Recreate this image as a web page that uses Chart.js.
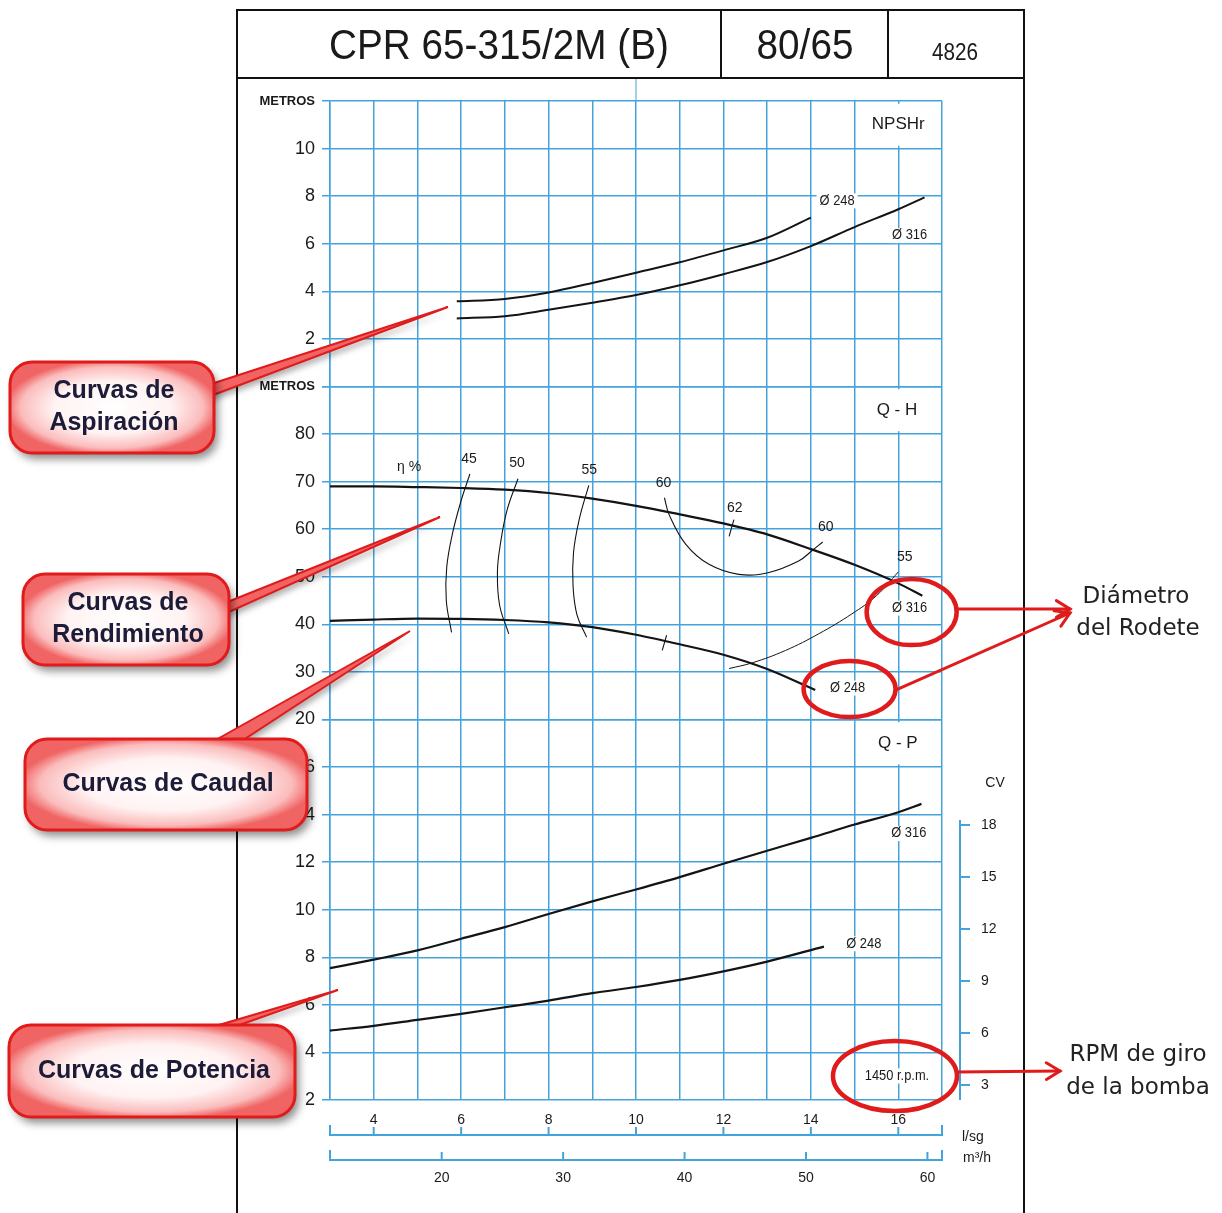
<!DOCTYPE html>
<html lang="es">
<head>
  <meta charset="UTF-8">
  <title>CPR 65-315/2M (B)</title>
  <script src="https://cdn.jsdelivr.net/npm/chart.js"></script>
  <style>
    body { margin: 0; background: #fff; }
    #wrap { width: 1222px; height: 1213px; }
  </style>
</head>
<body>
  <div id="wrap"><canvas id="curvas" width="1222" height="1213"></canvas></div>
  <script>
    const flowLsTicks = [4, 6, 8, 10, 12, 14, 16];
    const flowM3hTicks = [20, 30, 40, 50, 60];
    const npshTicks = [2, 4, 6, 8, 10];
    const headTicks = [20, 30, 40, 50, 60, 70, 80];
    const powerTicks = [2, 4, 6, 8, 10, 12, 14, 16];
    const cvTicks = [3, 6, 9, 12, 15, 18];

    // NPSHr (m)
    const npsh248 = [[5.9,3.58],[7,3.68],[8,3.95],[9,4.35],[10,4.78],[11,5.22],[12,5.72],[13,6.25],[14,7.1]];
    const npsh316 = [[5.9,2.86],[7,2.95],[8,3.22],[9,3.52],[10,3.84],[11,4.25],[12,4.72],[13,5.23],[14,5.9],[15,6.7],[16,7.45],[16.6,7.95]];

    // Q-H (m)
    const head316 = [[3,69.0],[4,69.0],[5,68.85],[6,68.65],[7,68.3],[8,67.6],[9,66.4],[10,64.9],[11,63.1],[12,61.2],[13,58.9],[14,55.8],[15,52.5],[16,48.6],[16.55,46.0]];
    const head248 = [[3,40.7],[4,41.0],[5,41.2],[6,41.15],[7,40.9],[8,40.4],[9,39.4],[10,37.8],[11,35.8],[12,33.6],[13,30.6],[14,26.6],[14.1,26.2]];

    // rendimiento (iso-curvas sobre Q-H)
    const eta45 = [[6.2,71.6],[6.0,66],[5.8,59],[5.67,52],[5.66,45],[5.78,38.3]];
    const eta50 = [[7.3,70.6],[7.05,64],[6.9,57],[6.83,51],[6.88,44],[7.09,38.0]];
    const eta55 = [[8.92,69.2],[8.7,62],[8.57,55],[8.56,48],[8.65,42],[8.87,37.3]];
    const eta60 = [[10.65,66.6],[10.76,63.0],[11.14,56.8],[11.67,52.6],[12.35,50.5],[13.04,50.9],[13.72,53.3],[14.03,55.5],[14.27,57.3]];
    const eta62 = [[12.24,62.0],[12.13,58.5]];
    const eta60b = [[10.7,37.7],[10.6,34.5]];
    const eta55b = [[12.13,30.7],[12.66,31.9],[13.42,34.5],[14.18,38.0],[14.94,42.2],[15.5,46.0],[16.0,51.0]];

    // Q-P (kW)
    const power316 = [[3,7.54],[4,7.9],[5,8.29],[6,8.78],[7,9.27],[8,9.82],[9,10.35],[10,10.85],[11,11.37],[12,11.93],[13,12.48],[14,13.02],[15,13.58],[16,14.1],[16.53,14.45]];
    const power248 = [[3,4.92],[4,5.12],[5,5.37],[6,5.62],[7,5.9],[8,6.18],[9,6.49],[10,6.75],[11,7.05],[12,7.41],[13,7.82],[14.3,8.45]];

    // rotulos [texto, caudal, valor, eje]
    const sectionTitles = [['NPSHr', 16.0, 11.0, 'yN'], ['Q - H', 15.97, 85.0, 'yH'], ['Q - P', 15.99, 17.0, 'yP']];
    const diaLabels = [['Ø 248', 14.6, 7.8, 'yN'], ['Ø 316', 16.26, 6.34, 'yN'],
                       ['Ø 316', 16.26, 43.4, 'yH'], ['Ø 248', 14.84, 26.6, 'yH'],
                       ['Ø 316', 16.24, 13.2, 'yP'], ['Ø 248', 15.21, 8.57, 'yP'],
                       ['1450 r.p.m.', 15.97, 3.01, 'yP']];
    const etaLabels = [['η %', 4.81, 73.1], ['45', 6.18, 74.7], ['50', 7.28, 73.9], ['55', 8.93, 72.4],
                       ['60', 10.63, 69.7], ['62', 12.26, 64.4], ['60', 14.34, 60.4], ['55', 16.15, 54.1]];

    const GRID = '#45a3dc';
    const INK = '#1a1a1a';
    const RED = '#e01b1b';
    const FONT = "'Liberation Sans', Arial, sans-serif";

    function serie(pts, axis, width, monotone) {
      return {
        data: pts.map(p => ({ x: p[0], y: p[1] })),
        xAxisID: 'x', yAxisID: axis,
        borderColor: '#141414', borderWidth: width,
        pointRadius: 0, fill: false,
        tension: monotone ? 0 : 0.4,
        cubicInterpolationMode: monotone ? 'monotone' : 'default'
      };
    }

    function txt(ctx, s, x, y, font, align, sx, color) {
      ctx.save();
      ctx.font = font;
      ctx.fillStyle = color || INK;
      ctx.textAlign = align || 'center';
      ctx.textBaseline = 'middle';
      ctx.translate(x, y);
      ctx.scale(sx || 1, 1);
      ctx.fillText(s, 0, 0);
      ctx.restore();
    }

    function labelBox(ctx, s, x, y, font, h, sx) {
      sx = sx || 1;
      ctx.save();
      ctx.font = font;
      const w = ctx.measureText(s).width * sx + 6;
      ctx.fillStyle = '#fff';
      ctx.fillRect(x - w / 2, y - h / 2, w, h);
      ctx.restore();
      txt(ctx, s, x, y, font, 'center', sx);
    }

    function rrect(ctx, x, y, w, h, r) {
      ctx.beginPath();
      ctx.moveTo(x + r, y);
      ctx.arcTo(x + w, y, x + w, y + h, r);
      ctx.arcTo(x + w, y + h, x, y + h, r);
      ctx.arcTo(x, y + h, x, y, r);
      ctx.arcTo(x, y, x + w, y, r);
      ctx.closePath();
    }

    function callout(ctx, b) {
      ctx.save();
      ctx.shadowColor = 'rgba(0,0,0,0.35)';
      ctx.shadowBlur = 6; ctx.shadowOffsetX = 3; ctx.shadowOffsetY = 4;
      ctx.beginPath();
      ctx.moveTo(b.tail[0][0], b.tail[0][1]);
      ctx.lineTo(b.tail[2][0], b.tail[2][1]);
      ctx.lineTo(b.tail[1][0], b.tail[1][1]);
      ctx.closePath();
      ctx.fillStyle = '#f26464';
      ctx.fill();
      ctx.shadowColor = 'transparent';
      ctx.strokeStyle = RED; ctx.lineWidth = 2; ctx.stroke();

      ctx.shadowColor = 'rgba(0,0,0,0.45)';
      ctx.shadowBlur = 9; ctx.shadowOffsetX = 4; ctx.shadowOffsetY = 6;
      rrect(ctx, b.x, b.y, b.w, b.h, 22);
      ctx.fillStyle = '#f27070';
      ctx.fill();
      ctx.shadowColor = 'transparent';
      ctx.save();
      ctx.translate(b.x + b.w / 2, b.y + b.h / 2);
      ctx.scale(b.w / 2, b.h / 2);
      const g = ctx.createRadialGradient(0, 0, 0, 0, 0, 1.05);
      g.addColorStop(0, '#ffffff');
      g.addColorStop(0.55, '#fff2f2');
      g.addColorStop(0.85, '#fbbcbc');
      g.addColorStop(1, '#f06464');
      ctx.fillStyle = g;
      ctx.fill();
      ctx.restore();
      ctx.strokeStyle = RED; ctx.lineWidth = 3; ctx.stroke();
      ctx.restore();
      const n = b.lines.length;
      b.lines.forEach((s, i) => {
        txt(ctx, s, b.x + b.w / 2 + 2, b.y + b.h / 2 + (i - (n - 1) / 2) * 32, "bold 25px " + FONT, 'center', 1, '#1c1c38');
      });
    }

    function arrow(ctx, x1, y1, x2, y2) {
      const a = Math.atan2(y2 - y1, x2 - x1);
      ctx.save();
      ctx.strokeStyle = RED; ctx.lineWidth = 3; ctx.lineCap = 'round';
      ctx.beginPath(); ctx.moveTo(x1, y1); ctx.lineTo(x2, y2); ctx.stroke();
      ctx.beginPath();
      ctx.moveTo(x2 - 16 * Math.cos(a - 0.55), y2 - 16 * Math.sin(a - 0.55));
      ctx.lineTo(x2, y2);
      ctx.lineTo(x2 - 16 * Math.cos(a + 0.55), y2 - 16 * Math.sin(a + 0.55));
      ctx.stroke();
      ctx.restore();
    }

    function ellipse(ctx, cx, cy, rx, ry) {
      ctx.save();
      ctx.strokeStyle = RED; ctx.lineWidth = 4.5;
      ctx.beginPath(); ctx.ellipse(cx, cy, rx, ry, 0, 0, Math.PI * 2); ctx.stroke();
      ctx.restore();
    }

    const boxes = [
      { x: 10, y: 362, w: 204, h: 91, lines: ['Curvas de', 'Aspiración'], tail: [[205, 386], [205, 398], [448, 307]] },
      { x: 23, y: 574, w: 206, h: 91, lines: ['Curvas de', 'Rendimiento'], tail: [[220, 605], [220, 616], [440, 517]] },
      { x: 25, y: 739, w: 282, h: 91, lines: ['Curvas de Caudal'], tail: [[205, 746], [234, 746], [410, 631]] },
      { x: 9, y: 1025, w: 286, h: 92, lines: ['Curvas de Potencia'], tail: [[195, 1032], [220, 1032], [338, 990]] }
    ];

    const hoja = {
      id: 'hoja',
      beforeDatasetsDraw(chart) {
        const ctx = chart.ctx, s = chart.scales;
        sectionTitles.forEach(([t, q, v, ax]) => {
          labelBox(ctx, t, s.x.getPixelForValue(q), s[ax].getPixelForValue(v), "17px " + FONT, 42);
        });
        diaLabels.forEach(([t, q, v, ax]) => {
          labelBox(ctx, t, s.x.getPixelForValue(q), s[ax].getPixelForValue(v), "14px " + FONT, 15, 0.92);
        });
        etaLabels.forEach(([t, q, v]) => {
          txt(ctx, t, s.x.getPixelForValue(q), s.yH.getPixelForValue(v), "14px " + FONT);
        });
      },
      afterDraw(chart) {
        const ctx = chart.ctx, s = chart.scales, a = chart.chartArea;
        // marco y cabecera
        ctx.save();
        ctx.strokeStyle = '#111'; ctx.lineWidth = 2;
        ctx.beginPath();
        ctx.moveTo(237, 1213); ctx.lineTo(237, 10); ctx.lineTo(1024, 10); ctx.lineTo(1024, 1213);
        ctx.moveTo(237, 78); ctx.lineTo(1024, 78);
        ctx.moveTo(721, 10); ctx.lineTo(721, 78);
        ctx.moveTo(888, 10); ctx.lineTo(888, 78);
        ctx.stroke();
        ctx.strokeStyle = GRID; ctx.lineWidth = 1;
        const x10 = s.x.getPixelForValue(10);
        ctx.beginPath(); ctx.moveTo(x10, 79); ctx.lineTo(x10, a.top); ctx.stroke();
        ctx.restore();
        txt(ctx, 'CPR 65-315/2M (B)', 499, 47, "43px " + FONT, 'center', 0.9);
        txt(ctx, '80/65', 805, 47, "43px " + FONT, 'center', 0.9);
        txt(ctx, '4826', 955, 54, "23px " + FONT, 'center', 0.9);

        // ejes de caudal inferiores
        ctx.save();
        ctx.strokeStyle = GRID; ctx.lineWidth = 2;
        const yLs = s.x.top + 35, yM3 = s.xm3.top + 12;
        ctx.beginPath();
        ctx.moveTo(a.left, yLs - 10); ctx.lineTo(a.left, yLs); ctx.lineTo(a.right, yLs); ctx.lineTo(a.right, yLs - 10);
        flowLsTicks.forEach(v => { const px = s.x.getPixelForValue(v); ctx.moveTo(px, yLs); ctx.lineTo(px, yLs - 8); });
        ctx.moveTo(a.left, yM3 - 10); ctx.lineTo(a.left, yM3); ctx.lineTo(a.right, yM3); ctx.lineTo(a.right, yM3 - 10);
        flowM3hTicks.forEach(v => { const px = s.xm3.getPixelForValue(v); ctx.moveTo(px, yM3); ctx.lineTo(px, yM3 - 8); });
        // eje CV
        const xcv = a.right + 18;
        ctx.moveTo(xcv, s.cv.getPixelForValue(18) - 5); ctx.lineTo(xcv, a.bottom);
        cvTicks.forEach(v => { const py = s.cv.getPixelForValue(v); ctx.moveTo(xcv, py); ctx.lineTo(xcv + 10, py); });
        ctx.stroke();
        ctx.restore();
        txt(ctx, 'l/sg', a.right + 20, yLs + 2, "14px " + FONT, 'left');
        txt(ctx, 'm³/h', a.right + 21, yM3 - 2, "14px " + FONT, 'left');
        txt(ctx, 'CV', a.right + 53, s.cv.getPixelForValue(20.4), "14px " + FONT);

        // anotaciones
        boxes.forEach(b => callout(ctx, b));
        const p316 = [s.x.getPixelForValue(16.26) + 2, s.yH.getPixelForValue(43.4) + 4];
        const p248 = [s.x.getPixelForValue(14.84) + 2, s.yH.getPixelForValue(26.6) + 1];
        const prpm = [s.x.getPixelForValue(15.97) - 2, s.yP.getPixelForValue(3.01)];
        ellipse(ctx, p316[0], p316[1], 45, 33);
        ellipse(ctx, p248[0], p248[1], 46, 28);
        ellipse(ctx, prpm[0], prpm[1], 62, 35);
        arrow(ctx, p316[0] + 45, p316[1] - 3, 1070, 609);
        arrow(ctx, p248[0] + 46, p248[1] + 1, 1070, 613);
        arrow(ctx, prpm[0] + 62, prpm[1] - 4, 1060, 1071);
        const side = "23px 'DejaVu Sans', sans-serif";
        txt(ctx, 'Diámetro', 1136, 597, side, 'center', 1, '#222');
        txt(ctx, 'del Rodete', 1138, 629, side, 'center', 1, '#222');
        txt(ctx, 'RPM de giro', 1138, 1055, side, 'center', 1, '#222');
        txt(ctx, 'de la bomba', 1138, 1088, side, 'center', 1, '#222');
      }
    };

    const metrosAt = { yN: 12, yH: 90 };
    function yScale(weight, stackWeight, min, max, step, shown) {
      return {
        type: 'linear', position: 'left', stack: 'panel', stackWeight, weight,
        min, max,
        afterFit: sc => { sc.width = 92; },
        ticks: {
          stepSize: step, color: INK, padding: 7, autoSkip: false,
          callback: function (v) {
            if (metrosAt[this.id] === v) return 'METROS';
            return shown.includes(v) ? String(v) : '';
          },
          font: c => (c.tick && metrosAt[c.scale.id] === c.tick.value)
            ? { family: FONT, size: 13, weight: 'bold' }
            : { family: FONT, size: 18 }
        },
        grid: { color: GRID, lineWidth: 1.5, tickLength: 8, tickColor: GRID },
        border: { color: GRID, width: 1.5 }
      };
    }

    const datasets = [
      serie(npsh248, 'yN', 2, true), serie(npsh316, 'yN', 2, true),
      serie(head316, 'yH', 2.2, true), serie(head248, 'yH', 2.2, true),
      serie(eta45, 'yH', 1.1, false), serie(eta50, 'yH', 1.1, false), serie(eta55, 'yH', 1.1, false),
      serie(eta60, 'yH', 1.1, false), serie(eta62, 'yH', 1.1, false), serie(eta60b, 'yH', 1.1, false),
      serie(eta55b, 'yH', 1, false),
      serie(power316, 'yP', 2.2, true), serie(power248, 'yP', 2.2, true)
    ];

    new Chart(document.getElementById('curvas'), {
      type: 'line',
      data: { datasets },
      options: {
        responsive: false,
        animation: false,
        layout: { padding: { left: 238, right: 220, top: 101, bottom: 23 } },
        plugins: { legend: { display: false }, tooltip: { enabled: false } },
        scales: {
          x: {
            type: 'linear', position: 'bottom', weight: 0, min: 3, max: 17,
            afterFit: sc => { sc.height = 48; },
            ticks: {
              stepSize: 1, autoSkip: false, maxRotation: 0, padding: 12, color: INK,
              font: { family: FONT, size: 14 },
              callback: v => flowLsTicks.includes(v) ? String(v) : ''
            },
            grid: { color: GRID, lineWidth: 1.5, drawTicks: false },
            border: { display: false }
          },
          xm3: {
            type: 'linear', position: 'bottom', weight: 1, min: 3 * 3.6, max: 17 * 3.6,
            afterFit: sc => { sc.height = 42; },
            afterBuildTicks: sc => { sc.ticks = flowM3hTicks.map(v => ({ value: v })); },
            ticks: { autoSkip: false, maxRotation: 0, padding: 22, color: INK, font: { family: FONT, size: 14 } },
            grid: { display: false, drawTicks: false },
            border: { display: false }
          },
          yN: yScale(3, 6, 0, 12, 2, npshTicks),
          yH: yScale(2, 7, 20, 90, 10, headTicks),
          yP: yScale(1, 8, 2, 18, 2, powerTicks),
          cv: {
            type: 'linear', position: 'right', min: 2.13, max: 59.8,
            afterFit: sc => { sc.width = 60; },
            afterBuildTicks: sc => { sc.ticks = cvTicks.map(v => ({ value: v })); },
            ticks: { autoSkip: false, padding: 39, color: INK, font: { family: FONT, size: 14 } },
            grid: { display: false, drawTicks: false },
            border: { display: false }
          }
        }
      },
      plugins: [hoja]
    });
  </script>
</body>
</html>
